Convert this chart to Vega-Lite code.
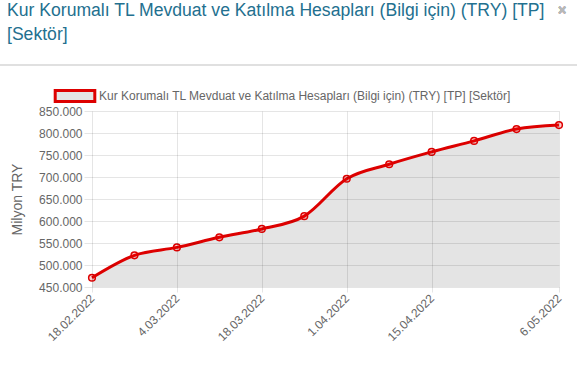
{
  "$schema": "https://vega.github.io/schema/vega-lite/v6.json",
  "width": 467,
  "height": 176,
  "autosize": {"type": "none"},
  "padding": {"left": 92, "top": 111, "right": 18, "bottom": 96},
  "background": "#ffffff",
  "title": {
    "text": ["Kur Korumalı TL Mevduat ve Katılma Hesapları (Bilgi için) (TRY) [TP]", "[Sektör]"],
    "anchor": "start",
    "frame": "group",
    "orient": "top",
    "dx": -85,
    "offset": -40,
    "font": "Liberation Sans",
    "fontSize": 17.6,
    "fontWeight": "normal",
    "color": "#23708f",
    "lineHeight": 24
  },
  "data": {
    "values": [
      {"date": "2022-02-18", "value": 471000, "series": "Kur Korumalı TL Mevduat ve Katılma Hesapları (Bilgi için) (TRY) [TP] [Sektör]"},
      {"date": "2022-02-25", "value": 522000, "series": "Kur Korumalı TL Mevduat ve Katılma Hesapları (Bilgi için) (TRY) [TP] [Sektör]"},
      {"date": "2022-03-04", "value": 540000, "series": "Kur Korumalı TL Mevduat ve Katılma Hesapları (Bilgi için) (TRY) [TP] [Sektör]"},
      {"date": "2022-03-11", "value": 563000, "series": "Kur Korumalı TL Mevduat ve Katılma Hesapları (Bilgi için) (TRY) [TP] [Sektör]"},
      {"date": "2022-03-18", "value": 582000, "series": "Kur Korumalı TL Mevduat ve Katılma Hesapları (Bilgi için) (TRY) [TP] [Sektör]"},
      {"date": "2022-03-25", "value": 611000, "series": "Kur Korumalı TL Mevduat ve Katılma Hesapları (Bilgi için) (TRY) [TP] [Sektör]"},
      {"date": "2022-04-01", "value": 696000, "series": "Kur Korumalı TL Mevduat ve Katılma Hesapları (Bilgi için) (TRY) [TP] [Sektör]"},
      {"date": "2022-04-08", "value": 729000, "series": "Kur Korumalı TL Mevduat ve Katılma Hesapları (Bilgi için) (TRY) [TP] [Sektör]"},
      {"date": "2022-04-15", "value": 757000, "series": "Kur Korumalı TL Mevduat ve Katılma Hesapları (Bilgi için) (TRY) [TP] [Sektör]"},
      {"date": "2022-04-22", "value": 782000, "series": "Kur Korumalı TL Mevduat ve Katılma Hesapları (Bilgi için) (TRY) [TP] [Sektör]"},
      {"date": "2022-04-29", "value": 809000, "series": "Kur Korumalı TL Mevduat ve Katılma Hesapları (Bilgi için) (TRY) [TP] [Sektör]"},
      {"date": "2022-05-06", "value": 818000, "series": "Kur Korumalı TL Mevduat ve Katılma Hesapları (Bilgi için) (TRY) [TP] [Sektör]"}
    ]
  },
  "encoding": {
    "x": {
      "field": "date",
      "type": "temporal",
      "scale": {
        "type": "utc",
        "domain": [
          {"year": 2022, "month": 2, "date": 18, "utc": true},
          {"year": 2022, "month": 5, "date": 6, "utc": true}
        ]
      },
      "axis": {
        "title": null,
        "values": [
          {"year": 2022, "month": 2, "date": 18, "utc": true},
          {"year": 2022, "month": 3, "date": 4, "utc": true},
          {"year": 2022, "month": 3, "date": 18, "utc": true},
          {"year": 2022, "month": 4, "date": 1, "utc": true},
          {"year": 2022, "month": 4, "date": 15, "utc": true},
          {"year": 2022, "month": 5, "date": 6, "utc": true}
        ],
        "format": "%-d.%m.%Y",
        "labelAngle": -45,
        "labelAlign": "right",
        "labelBaseline": "middle",
        "labelPadding": 4,
        "tickSize": 5,
        "domain": false,
        "zindex": 1
      }
    },
    "y": {
      "field": "value",
      "type": "quantitative",
      "scale": {"domain": [450000, 850000], "zero": false, "nice": false},
      "axis": {
        "title": "Milyon TRY",
        "values": [450000, 500000, 550000, 600000, 650000, 700000, 750000, 800000, 850000],
        "format": ",.0f",
        "tickSize": 8,
        "labelPadding": 2,
        "titlePadding": 14,
        "titleFontSize": 14,
        "titleFontWeight": "normal",
        "titleColor": "#666666",
        "domain": false,
        "zindex": 1
      }
    }
  },
  "layer": [
    {
      "mark": {"type": "area", "interpolate": "monotone", "clip": true},
      "encoding": {
        "fill": {
          "field": "series",
          "type": "nominal",
          "scale": {"range": ["#e4e4e4"]},
          "legend": {
            "title": null,
            "orient": "none",
            "legendX": -24,
            "legendY": -22,
            "symbolType": "M-3.6,-1H3.6V1H-3.6Z",
            "symbolSize": 121,
            "symbolStrokeColor": "#dd0000",
            "symbolStrokeWidth": 3,
            "symbolOpacity": 1,
            "labelFont": "Liberation Sans",
            "labelFontSize": 12,
            "labelColor": "#666666",
            "labelLimit": 0,
            "labelOffset": 17,
            "padding": 0
          }
        }
      }
    },
    {
      "mark": {"type": "line", "interpolate": "monotone", "color": "#dd0000", "strokeWidth": 3}
    },
    {
      "mark": {"type": "point", "shape": "circle", "size": 45, "filled": false, "stroke": "#dd0000", "strokeWidth": 1.5, "fill": "#ff0000", "fillOpacity": 0.2, "opacity": 1}
    },
    {
      "mark": {"type": "rule", "color": "#e0e0e0", "strokeWidth": 1},
      "encoding": {
        "x": {"datum": {"year": 2022, "month": 2, "date": 2, "hours": 20, "utc": true}, "type": "temporal"},
        "x2": {"datum": {"year": 2022, "month": 5, "date": 9, "utc": true}},
        "y": {"datum": 954500, "type": "quantitative"}
      }
    },
    {
      "mark": {"type": "text", "text": "×", "color": "#b8b8b8", "fontSize": 14, "font": "Liberation Sans", "fontWeight": "bold"},
      "encoding": {
        "x": {"datum": {"year": 2022, "month": 5, "date": 6, "hours": 12, "utc": true}, "type": "temporal"},
        "y": {"datum": 1078000, "type": "quantitative"}
      }
    }
  ],
  "config": {
    "locale": {
      "number": {"decimal": ",", "thousands": ".", "grouping": [3], "currency": ["", " ₺"]}
    },
    "font": "Liberation Sans",
    "view": {"stroke": null},
    "axis": {
      "labelFont": "Liberation Sans",
      "labelFontSize": 12,
      "labelColor": "#666666",
      "titleFont": "Liberation Sans",
      "gridColor": "#000000",
      "gridOpacity": 0.1,
      "tickColor": "#000000",
      "tickOpacity": 0.1
    }
  }
}
